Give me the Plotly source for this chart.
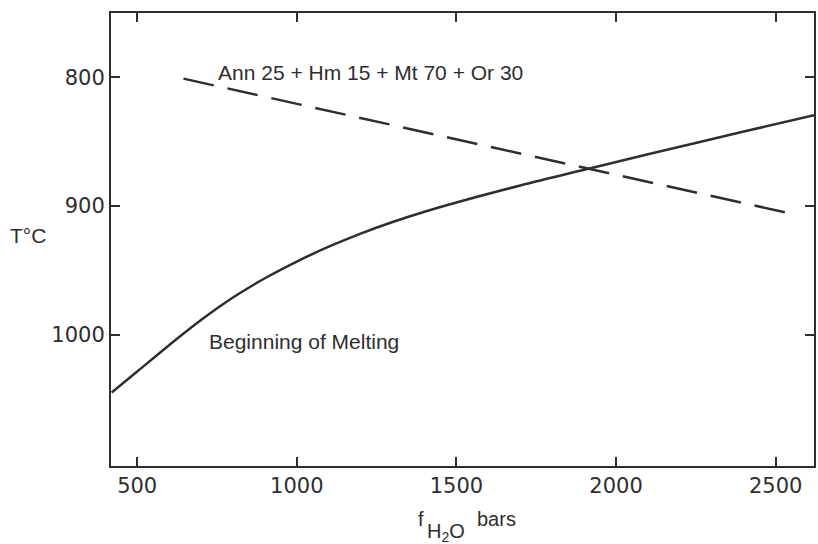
import plotly.graph_objects as go

# Beginning of melting curve (fH2O bars, T °C)
melt_fh2o = [420, 500, 600, 700, 800, 900, 1000, 1100, 1200, 1300, 1400, 1500, 1700, 1900, 2100, 2400, 2620]
melt_T = [1045, 1028.6, 1008.1, 988.6, 971.1, 956.1, 943.1, 931.6, 921.4, 912.4, 904.4, 897.2, 884.0, 871.8, 859.8, 842.1, 829.5]

# Ann25 + Hm15 + Mt70 + Or30 buffer line
buf_fh2o = [645, 2550]
buf_T = [801, 906]

x_ticks = [500, 1000, 1500, 2000, 2500]
y_ticks = [800, 900, 1000]

ink = "#2e2e2e"

fig = go.Figure()
fig.add_trace(go.Scatter(x=melt_fh2o, y=melt_T, mode="lines",
                         line=dict(color=ink, width=2.5, shape="spline", smoothing=1.0),
                         showlegend=False, hoverinfo="skip"))
fig.add_trace(go.Scatter(x=buf_fh2o, y=buf_T, mode="lines",
                         line=dict(color=ink, width=2.5, dash="31px,14px"),
                         showlegend=False, hoverinfo="skip"))

axis_common = dict(showgrid=False, zeroline=False, showline=True, linecolor=ink, linewidth=2,
                   ticks="inside", ticklen=9, tickwidth=2, tickcolor=ink, mirror="ticks",
                   tickfont=dict(family="DejaVu Sans", size=21, color=ink))

fig.update_xaxes(range=[418, 2620], tickvals=x_ticks, ticktext=[str(v) for v in x_ticks], **axis_common)
fig.update_yaxes(range=[1102, 750], tickvals=y_ticks, ticktext=[str(v) for v in y_ticks], **axis_common)

txt_font = dict(family="Liberation Sans", size=21, color=ink)

def px2paper_x(X):
    return (X - 111) / 705.0

def px2paper_y(Y):
    return (466 - Y) / 453.0

annotations = [
    dict(x=1231, y=796, xref="x", yref="y", text="Ann 25 + Hm 15 + Mt 70 + Or 30",
         showarrow=False, font=txt_font, xanchor="center", yanchor="middle"),
    dict(x=1022, y=1005.5, xref="x", yref="y", text="Beginning of Melting",
         showarrow=False, font=txt_font, xanchor="center", yanchor="middle"),
    dict(x=px2paper_x(28), y=px2paper_y(236), xref="paper", yref="paper", text="T°C",
         showarrow=False, font=txt_font, xanchor="center", yanchor="middle"),
    dict(x=px2paper_x(422), y=px2paper_y(519), xref="paper", yref="paper", text="f",
         showarrow=False, font=dict(family="Liberation Sans", size=20, color=ink), xanchor="center", yanchor="middle"),
    dict(x=px2paper_x(447), y=px2paper_y(532), xref="paper", yref="paper", text="H<sub>2</sub>O",
         showarrow=False, font=dict(family="Liberation Sans", size=20, color=ink), xanchor="center", yanchor="middle"),
    dict(x=px2paper_x(498), y=px2paper_y(519), xref="paper", yref="paper", text="bars",
         showarrow=False, font=dict(family="Liberation Sans", size=20, color=ink), xanchor="center", yanchor="middle"),
]

fig.update_layout(width=818, height=544, margin=dict(l=111, r=2, t=13, b=78),
                  plot_bgcolor="white", paper_bgcolor="white", annotations=annotations)

fig.write_html("out.html")
